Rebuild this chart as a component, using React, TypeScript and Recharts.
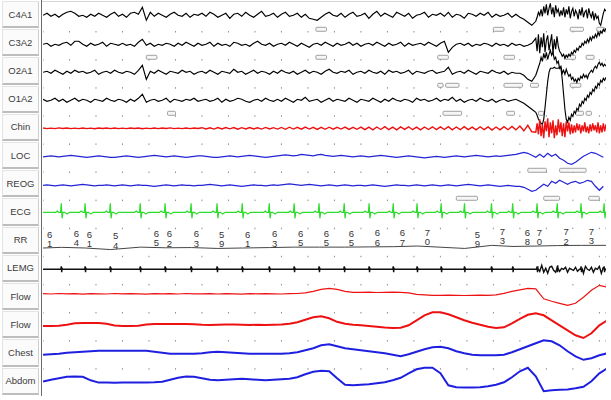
import { LineChart, Line, XAxis, YAxis, CartesianGrid, ReferenceArea, LabelList } from 'recharts';

// time axis (seconds) shared by every trace
const T_END = 21.25;
const FAST_DT = 0.15;
const SLOW_DT = 0.3;
const TAIL_START = 18.6; // arousal at the end of the epoch is sampled finer
const TAIL_DT = 0.05;
const secondTicks = [1, 2, 3, 4, 5, 6, 7, 8, 9, 10, 11, 12, 13, 14, 15, 16, 17, 18, 19, 20, 21];

const channelNames = ['C4A1', 'C3A2', 'O2A1', 'O1A2', 'Chin', 'LOC', 'REOG', 'ECG', 'RR', 'LEMG', 'Flow', 'Flow', 'Chest', 'Abdom'];

// EEG, every 0.15 s up to 18.45 s
const c4a1 = [
  0, 2, -1, 1, -2, 1, 3, 4, 2, -1, 0, -2, 1, -1, 2, 0, -2, 1, 3, -1,
  1, -2, 2, 3, 1, 8, -5, 3, -1, 2, 0, -2, 1, 3, 0, -1, 2, -2, 1, 0,
  2, -1, 3, 1, -2, 0, 2, -3, 1, 2, -1, 3, 0, -2, 1, 4, -1, 0, 2, -2,
  1, 3, -1, 0, 2, -2, 1, -3, -4, -5, -2, 1, 3, 0, -1, 2, -2, 1, 3, -1,
  0, 2, -3, 1, 4, -1, 2, 0, -2, 3, 1, -1, 2, -3, 0, 1, 3, -2, 1, 0,
  2, -1, 3, -2, 1, 0, -3, 2, 1, -1, 2, 0, 3, -2, 1, -1, 0, 2, -2, 1,
  -2, -4, -7, -10,
];
const c3a2 = [
  -1, 0, -3, -1, -2, 0, 1, -2, 2, 2, -1, -3, 0, -2, -1, 1, -3, 0, -1, -2,
  0, -2, -1, -3, 1, 4, -2, 0, -3, -1, -2, 0, -1, -3, 0, -2, 1, -1, -3, 0,
  -2, -1, 1, -3, 0, -2, -1, -3, 1, 0, -2, -1, -3, 0, 2, -1, -2, 0, -3, -1,
  0, -2, 1, -1, -3, 0, -2, -4, -1, 0, -2, 1, -1, -3, 0, -2, -1, 1, -2, 0,
  -3, -1, 0, -2, 1, -1, -3, 0, -2, -1, 1, -3, 0, -2, -1, 0, -2, 1, -1, -3,
  0, 2, -9, -4, -1, 0, -2, 0, -3, -1, -2, 0, -1, -3, 0, -2, -1, -3, 0, -2,
  -1, -3, -2, 0,
];
const o2a1 = [
  -1, 0, -2, 1, -1, -3, 0, -2, 1, -1, 0, -2, -1, 1, -3, -1, 0, -2, 1, -1,
  -2, 0, -1, -3, 1, 6, -8, 0, -2, 1, -1, -3, 0, -1, -2, 1, -1, 0, -3, -1,
  0, -2, 1, -1, -3, 0, -1, -2, 2, -1, 0, -3, -1, 1, -2, 0, -1, -3, 0, -2,
  1, -1, -2, 0, -3, -1, 1, -2, 0, -1, -3, 0, 2, -1, -2, 0, -1, 1, -3, -1,
  0, -2, 1, -1, -2, 0, -3, 1, -1, 0, -2, -1, 1, -3, 0, -1, -2, 0, 1, -2,
  -1, 0, 4, -3, -1, 0, -2, 1, -1, -3, 0, -1, -2, 1, -1, -2, 0, -3, -1, -2,
  -2, -4, -8, -10,
];
const o1a2 = [
  0, -2, -1, 1, -2, 0, -3, -1, 1, -2, 0, -1, -3, 0, -1, -2, 1, -1, -2, 0,
  -1, -3, 0, -2, 1, 5, -3, -1, 0, -2, -1, 1, -3, 0, -1, -2, 0, -1, 1, -2,
  -1, 0, -2, -1, 1, -3, 0, -2, -1, 1, 0, -2, -3, -1, 0, -2, 1, -1, -2, 0,
  -2, 1, -1, -3, 0, -1, 2, -2, -1, 0, -3, -1, 1, -2, 0, -1, -2, 1, -1, -3,
  0, -1, -2, 1, -1, -3, 0, -2, 1, -1, -2, 0, -1, -3, 1, -1, 0, -2, -1, 1,
  -2, 0, -1, 2, -2, 0, -3, -1, 0, -2, 1, -1, -2, 0, -3, -1, 0, -2, -1, 0,
  -2, -4, -7, -10,
];
const chin = [
  0.3, -0.3, 0.2, -0.3, 0.4, -0.2, 0.3, -0.3, 0.2, -0.3, 0.3, -0.3, 0.2, -0.4, 0.3, -0.2, 0.3, -0.3, 0.3, -0.3,
  0.2, -0.3, 0.3, -0.2, 0.3, -0.4, 0.2, -0.3, 0.3, -0.3, 0.3, -0.2, 0.4, -0.3, 0.2, -0.3, 0.3, -0.3, 0.3, -0.2,
  0.6, -0.7, 0.5, -0.8, 0.7, -0.6, 0.8, -0.5, 0.7, -0.9, 0.6, -0.7, 0.8, -0.6, 0.5, -0.8, 0.9, -0.7, 0.6, -0.8,
  0.9, -1, 1.1, -0.8, 1, -0.9, 1.2, -0.8, 1, -1.1, 0.9, -1, 1.1, -0.9, 1, -0.8, 1.2, -1.1, 0.9, -1,
  1.2, -1.4, 1.1, -1.5, 1.3, -1.2, 1.6, -1.3, 1.2, -1.5, 1.4, -1.1, 1.5, -1.4, 1.2, -1.6, 1.3, -1.2, 1.5, -1.3,
  1.4, -1.2, 1.6, -1.5, 1.3, -1.4, 1.7, -1.3, 1.2, -1.6, 1.5, -1.3, 1.4, -1.7, 1.3, -1.5, 1.6, -1.4, 1.8, -1.6,
  2.2, -2.5, 3, -3.5,
];
// EEG / chin from 18.6 s, every 0.05 s
const c4a1Tail = [
  -6, -2, 3, 0, 6, -1, 9, 2, 11, 0, 7, 12, 1, 8, -2, 10, 3, 6, -1,
  5, 0, 8, -2, 6, 1, 9, -3, 4, 7, -1, 5, 2, -4, 6, 0, 8, -2, 3, 5, -3, 7, 1, -2, 4, -5, 2, -3, -1,
  -8, -10, -4, 2, 6, 4,
];
const c3a2Tail = [
  5, -8, 9, -10, 6, -4, 10, -9, 3, 8, -7, 1, 9, -10, 4, -6, 7, -3, -8,
  -10, -13, -11, -15, -12, -14, -11, -13, -9, -11, -7, -9,
  -5, -7, -3, -4, 0, -2, 2, 0, 4, 1, 6, 3, 7, 5, 9, 6, 11, 8, 12, 10, 14, 12, 15,
];
const o2a1Tail = [
  -4, 0, 4, 8, 14, 10, 18, 13, 19, 12, 17, 21, 16, 19, 12, 14, 8, 10, 3, 5,
  -2, 1, -3, 2, -2, -5, -3, -8, -6, -10, -8, -11, -7, -9, -5, -7, -3, -6, -4, -7,
  -3, -1, 1, -1, 3, 5, 3, 7, 9, 6, 8, 5, 7, 5,
];
const o1a2Tail = [
  -13, -16, -20, -22, -24, -25, -20, -8, 5, 18, 27, 31,
  31, 31, 32, 31, 31, 31, 32, 31,
  20, 5, -10, -20, -23, -18, -21, -15, -17, -12, -14, -9, -11, -5, -7, -2, -4, 1, -1, 4,
  2, 7, 5, 10, 8, 13, 11, 16, 14, 19, 17, 21, 19, 22,
];
const chinTail = [
  -4, 5, -6, 9, -8, 4, -10, 7, -3, 10, -9, 6, -5, 8, -10, 3, -7, 9, -4, 6,
  -8, 5, -9, 7, -3, 6, -6, 4, -5, 3, -4, 5, -2, 4, -5, 3, -3, 6, -4, 2,
  -5, 4, -3, 5, -2, 3, -4, 6, -5, 3, -4, 5, -3, 4,
];
// eye channels, every 0.15 s
const loc = [
  -0.5, 0, 0.5, 0, -0.5, 0, 0.5, 1, 0.5, 0, -0.5, -1, -0.5, 0, 0.5, 0, -0.5, -1, -1, -0.5,
  0, 0.5, 0, -0.5, -1, -0.5, 0, 0.5, 1, 0.5, 0, -0.5, 0, 0.5, 0, -0.5, -1, -0.5, 0, 0.5,
  0.5, 0, -0.5, -1, -1, -0.5, 0, 0.5, 0, -0.5, 0, 0.5, 1, 0.5, 0, -0.5, -1, -0.5, 0, 0.5,
  1, 1.5, 1, 0.5, 1, 2, 1.5, 1, 0.5, 1.5, 2, 1, 0.5, 0, 0.5, 1, 0.5, 0, -0.5, 0,
  0.5, 0, -0.5, 0, 0.5, 1, 0.5, 0, -0.5, -1, -0.5, 0, 0.5, 0, -0.5, -1, -1.5, -1, -0.5, 0,
  -0.5, -1, -0.5, 0, 0.5, 0, -0.5, 0, 0.5, 1, 0.5, 0, -0.5, 0, 0.5, 0, 0.5, 1, 1.5, 2,
  3, 4, 3, 1, -1, 2, -1, 3, 0, 2, -2, -4, -7, -8, -6, -3, 0, 2, 4, 3, 1, -1,
];
const reog = [
  -1, -0.5, -1, -1.5, -1, -0.5, -1, -1.5, -1, -0.5, 0, -0.5, -1, -1.5, -1, -1, -0.5, -1, -1.5, -1,
  -0.5, -1, -1.5, -1, -0.5, -1, -1, -1.5, -2, -1.5, -1, -0.5, -1, -1.5, -1, -0.5, -1, -1, -1.5, -1,
  -1, -0.5, 0, -0.5, -1, -1.5, -1, -0.5, -1, -1.5, -2, -1.5, -1, -0.5, -1, -1, -1.5, -1, -0.5, -1,
  -0.5, 0, 0.5, 0, -0.5, -1, -0.5, 0, -0.5, -1, -1.5, -1, -0.5, -1, -1.5, -1, -0.5, -1, -1.5, -1,
  -1, -1.5, -1, -0.5, -1, -1.5, -2, -1.5, -1, -0.5, -1, -1, -1.5, -1, -0.5, -1, -1.5, -1, -0.5, -1,
  -1.5, -1, -0.5, -1, -1.5, -1, -0.5, 0, -0.5, -1, -1.5, -1, -0.5, -1, -1.5, -2, -1.5, -1, -1.5, -2,
  -2, -3, -5, -7, -6, -3, 0, -2, 3, 1, 4, 2, 0, 2, 3, 1, 2, 4, 3, -2, -6, -2,
];

// respiration, every 0.3 s
const flowA = [
  3.6, 3.3, 3.8, 3.4, 3.6, 3.2, 3.7, 3.5, 3.3, 3.8, 3.4, 3.6, 3.5, 3.2, 3.7, 3.4, 3.6, 3.3, 3.8, 3.5,
  3.4, 3.7, 3.3, 3.6, 3.5, 3.2, 3.7, 3.4, 3.6, 3.5, 3.3, 3.6, 3.8, 4.5, 6, 8, 9, 8, 6, 5,
  5, 5.2, 4.8, 5, 5.2, 5, 4.5, 3, 2.5, 2, 2, 2.2, 2, 1.8, 2, 2.2, 2, 2.5, 4, 6,
  7.5, 9, 8.5, -1.5, -4, -6, -8, -6, 0, 7, 12, 10,
];
const flowB = [
  -0.7, -0.7, -0.5, 0.5, 2, 2.3, 2.3, 2.2, 1.5, -0.3, -0.7, -0.7, -0.5, 0.8, 1.3, 1.3, 1.2, 1.3, 1.2, 1,
  0.5, 0.3, 0.5, 0.8, 0.7, 0.5, 0.3, 0.5, 0.4, 0.6, 0.8, 1.5, 3, 5.5, 8, 9, 7, 3.5, 1.5, 0.5,
  0, -0.8, -1.5, -2.2, -2.7, -2.5, 0, 5, 10, 13, 13, 11, 8, 5, 2.5, 0.5, -1.5, -2.7, -2, 2,
  6.5, 10.5, 12, 10, 5, 0, -5, -10, -12.7, -8, 0, 5,
];
const chest = [
  -1.5, -1, -0.5, 0.5, 1, 1.5, 2, 2.5, 2.5, 2.5, 2.5, 2.5, 2.5, 2.5, 1.5, 0.5, -0.5, -0.5, -0.5, -0.5,
  0, 1, 1.5, 1, 0.5, 0, -0.5, -0.5, -0.5, -0.5, -0.5, 0, 1, 3, 5, 8, 9, 7, 5, 4,
  3, 2, 1, 0, -1.5, -3, -1, 1.5, 4, 6, 6.5, 5, 2, 0, -1.5, -2, -2, -2, -1.5, 1,
  4, 7, 10, 13, 12, 8, 2, -3, -6.5, -5, -2, 0,
];
const abdom = [
  -0.3, 1.5, 3, 4.5, 4.7, 4.5, 1, -1.3, -1.3, -1.5, -1.3, -1.3, -1.3, -1.2, -1, -0.5, 1.5, 3.5, 4.7, 4.5,
  3, 1.5, 1, 1.5, 2, 2.5, 2, 1.5, 1, 1.5, 2, 2.5, 4, 7, 9.5, 10.5, 10, 3, -3.5, -4,
  -3.5, -3, -2, -1, 1, 3.5, 8, 12, 13.5, 13.5, 8, -4, -6, -6.3, -6.3, -6, -5, -3.5, -1, 4,
  10, 13.5, 5, -10, -9, -8.5, -8.3, -7, -5.5, 0, 8, 13,
];

// heart beats (s) and the waveform placed at each beat
const beatTimes = [0.7, 1.6, 2.55, 3.68, 4.62, 5.6, 6.58, 7.53, 8.55, 9.49, 10.43, 11.38, 12.32, 13.23, 14.13, 15.04, 15.92, 16.94, 17.74, 18.66, 19.42, 20.32, 21.19];
const ecgShapeT = [-0.22, -0.16, -0.1, -0.04, -0.01, 0.02, 0.05, 0.12, 0.2, 0.3];
const ecgShapeV = [0, 1.2, 0, 0, 9, -6, 0, 0, -1.8, 0];
const lemgShapeT = [-0.03, -0.01, 0.005, 0.02, 0.04];
const lemgShapeV = [0, 3, -3, 1, 0];
const lemgTailDt = 0.075;
const lemgTail = [0, 3, -2, 4, -3, 1, -4, 2, 3, -1, -3, 4, -2, 1, 0, 2, -3, 1, 0, -1, 2, -2, 0, 1, -4, 3, 0, -1, 2, -3, 1, 0, 3, -4, 2, -1];

// RR (bpm) per interval, and where its label sits
const rrStart = [0, 0.7, 1.6, 2.55, 3.68, 4.62, 5.6, 6.58, 7.53, 8.55, 9.49, 10.43, 11.38, 12.32, 13.23, 14.13, 15.92, 16.94, 17.74, 18.66, 19.42, 20.32];
const rrBpm = [61, 64, 61, 54, 65, 62, 63, 59, 61, 63, 65, 65, 65, 66, 67, 70, 59, 73, 68, 70, 72, 73];
const rrLabelTime = [0.25, 1.26, 1.75, 2.74, 4.28, 4.77, 5.79, 6.74, 7.72, 8.74, 9.72, 10.7, 11.64, 12.62, 13.57, 14.51, 16.4, 17.34, 18.28, 18.74, 19.75, 20.7];

// scored events (start, end in s)
const c4a1Events = [[10.3, 10.7], [17.0, 17.4], [19.9, 20.4], [20.9, 21.2]];
const c3a2Events = [[3.9, 4.3], [10.3, 10.7], [14.9, 15.3], [17.4, 17.8], [19.7, 20.1], [20.5, 20.8]];
const o2a1Events = [[14.9, 15.1], [15.2, 15.7], [17.4, 18.1], [18.4, 18.7], [19.9, 20.3]];
const o1a2Events = [[4.7, 5.0], [15.1, 15.8], [17.5, 17.8], [18.7, 18.9], [20.1, 20.4], [20.5, 20.7]];
const locEvents = [[18.3, 19.0], [19.5, 20.5]];
const reogEvents = [[15.6, 16.4], [18.9, 19.5], [20.6, 21.0]];

const toSeries = (vals: number[], dt: number, start = 0) => vals.map((v, i) => ({ t: +(start + i * dt).toFixed(3), v }));
const withTail = (base: number[], tail: number[]) => [...toSeries(base, FAST_DT), ...toSeries(tail, TAIL_DT, TAIL_START)];

const placeShape = (shapeT: number[], shapeV: number[]) => {
  const pts = [{ t: 0, v: 0 }];
  beatTimes.forEach((b) => shapeT.forEach((d, k) => pts.push({ t: +(b + d).toFixed(3), v: shapeV[k] })));
  return pts;
};

const ecgData = [...placeShape(ecgShapeT, ecgShapeV), { t: T_END, v: 0 }].sort((a, b) => a.t - b.t);
const lemgData = [...placeShape(lemgShapeT, lemgShapeV), ...toSeries(lemgTail, lemgTailDt, TAIL_START), { t: T_END, v: 0 }].sort((a, b) => a.t - b.t);
const rrData = [...rrStart.map((t, i) => ({ t, v: rrBpm[i] })), { t: T_END, v: rrBpm[rrBpm.length - 1] }];
const rrLabels = rrLabelTime.map((t, i) => ({ t, v: rrBpm[i] }));

const PLOT_X = 43;
const PLOT_W = 563;
const ROW_H = 28.2;
const FIRST_CENTER = 15.1;
const CHART_H = ROW_H * 3;
const FONT = '"Liberation Sans", Arial, sans-serif';

const EventBox = (props: any) => {
  const { x, y, width, height } = props;
  return <rect x={x} y={y + height / 2 + 12} width={width} height={4} rx={1} fill="#f6f6f6" stroke="#8a8a8a" strokeWidth={0.8} />;
};

const RRLabel = (props: any) => {
  const x = props.x ?? props.viewBox?.x;
  const y = props.y ?? props.viewBox?.y;
  const s = String(props.value);
  return (
    <text x={x} y={y} fontSize={9.5} fill="#333" textAnchor="middle" fontFamily={FONT}>
      <tspan x={x} dy={-10.5}>{s[0]}</tspan>
      <tspan x={x} dy={9.5}>{s[1]}</tspan>
    </text>
  );
};

function Trace({ row, data, color, width = 1, events, domain, labels }: any) {
  const center = FIRST_CENTER + row * ROW_H;
  return (
    <div style={{ position: 'absolute', left: PLOT_X, top: center - CHART_H / 2 }}>
      <LineChart width={PLOT_W} height={CHART_H} data={data} margin={{ top: 0, right: 0, bottom: 0, left: 0 }}>
        <XAxis type="number" dataKey="t" domain={[0, T_END]} hide allowDataOverflow />
        <YAxis type="number" domain={domain ?? [-CHART_H / 2, CHART_H / 2]} hide allowDataOverflow />
        {events?.map(([a, b]: number[], i: number) => (
          <ReferenceArea key={i} x1={a} x2={b} shape={EventBox} ifOverflow="visible" />
        ))}
        <Line dataKey="v" type="linear" stroke={color} strokeWidth={width} dot={false} isAnimationActive={false} />
        {labels && (
          <Line data={labels} dataKey="v" stroke="none" dot={false} isAnimationActive={false}>
            <LabelList dataKey="v" content={RRLabel} />
          </Line>
        )}
      </LineChart>
    </div>
  );
}

export default function App() {
  return (
    <div style={{ position: 'absolute', left: 0, top: 0, width: 611, height: 400, background: '#fff', overflow: 'hidden', fontFamily: FONT }}>
      {channelNames.map((name, i) => (
        <div
          key={i}
          style={{
            position: 'absolute', left: 2, top: 1 + i * ROW_H, width: 35, height: ROW_H - 4,
            background: '#fbfbfb', border: '1px solid #e4e4e4', borderBottom: '2px solid #bdbdbd', borderRight: '1px solid #cfcfcf',
            display: 'flex', alignItems: 'center', justifyContent: 'center', fontSize: 9.5, color: '#3a3a3a',
          }}
        >
          {name}
        </div>
      ))}
      <div style={{ position: 'absolute', left: 41, top: 0, width: 1, height: 396, background: '#6a6a6a' }} />
      <div style={{ position: 'absolute', left: 42, top: 1, width: 569, height: 1, background: '#d6d6d6' }} />

      {/* second markers between rows */}
      <div style={{ position: 'absolute', left: PLOT_X, top: 30.5 }}>
        <LineChart width={PLOT_W} height={342} data={secondTicks.map((t) => ({ t }))} margin={{ top: 0, right: 0, bottom: 0, left: 0 }}>
          <CartesianGrid horizontal={false} stroke="#8c8c8c" strokeDasharray="1.5 26.6" />
          <XAxis type="number" dataKey="t" domain={[0, T_END]} ticks={secondTicks} hide allowDataOverflow />
          <YAxis domain={[0, 1]} hide />
        </LineChart>
      </div>

      <Trace row={0} data={withTail(c4a1, c4a1Tail)} color="#000" width={1.15} events={c4a1Events} />
      <Trace row={1} data={withTail(c3a2, c3a2Tail)} color="#000" width={1.15} events={c3a2Events} />
      <Trace row={2} data={withTail(o2a1, o2a1Tail)} color="#000" width={1.15} events={o2a1Events} />
      <Trace row={3} data={withTail(o1a2, o1a2Tail)} color="#000" width={1.15} events={o1a2Events} />
      <Trace row={4} data={withTail(chin, chinTail)} color="#ee1111" width={1.4} />
      <Trace row={5} data={toSeries(loc, FAST_DT)} color="#2424d6" width={1.2} events={locEvents} />
      <Trace row={6} data={toSeries(reog, FAST_DT)} color="#2424d6" width={1.2} events={reogEvents} />
      <Trace row={7} data={ecgData} color="#2edc2e" width={1.2} />
      {/* bpm scale chosen so 65 bpm sits at the step line's baseline */}
      <Trace row={8} data={rrData} color="#444" domain={[-96, 288]} labels={rrLabels} />
      <Trace row={9} data={lemgData} color="#111" width={1.4} />
      <Trace row={10} data={toSeries(flowA, SLOW_DT)} color="#ee1111" width={1.2} />
      <Trace row={11} data={toSeries(flowB, SLOW_DT)} color="#ee1111" width={2} />
      <Trace row={12} data={toSeries(chest, SLOW_DT)} color="#1f1fe0" width={2} />
      <Trace row={13} data={toSeries(abdom, SLOW_DT)} color="#1f1fe0" width={2} />
    </div>
  );
}
